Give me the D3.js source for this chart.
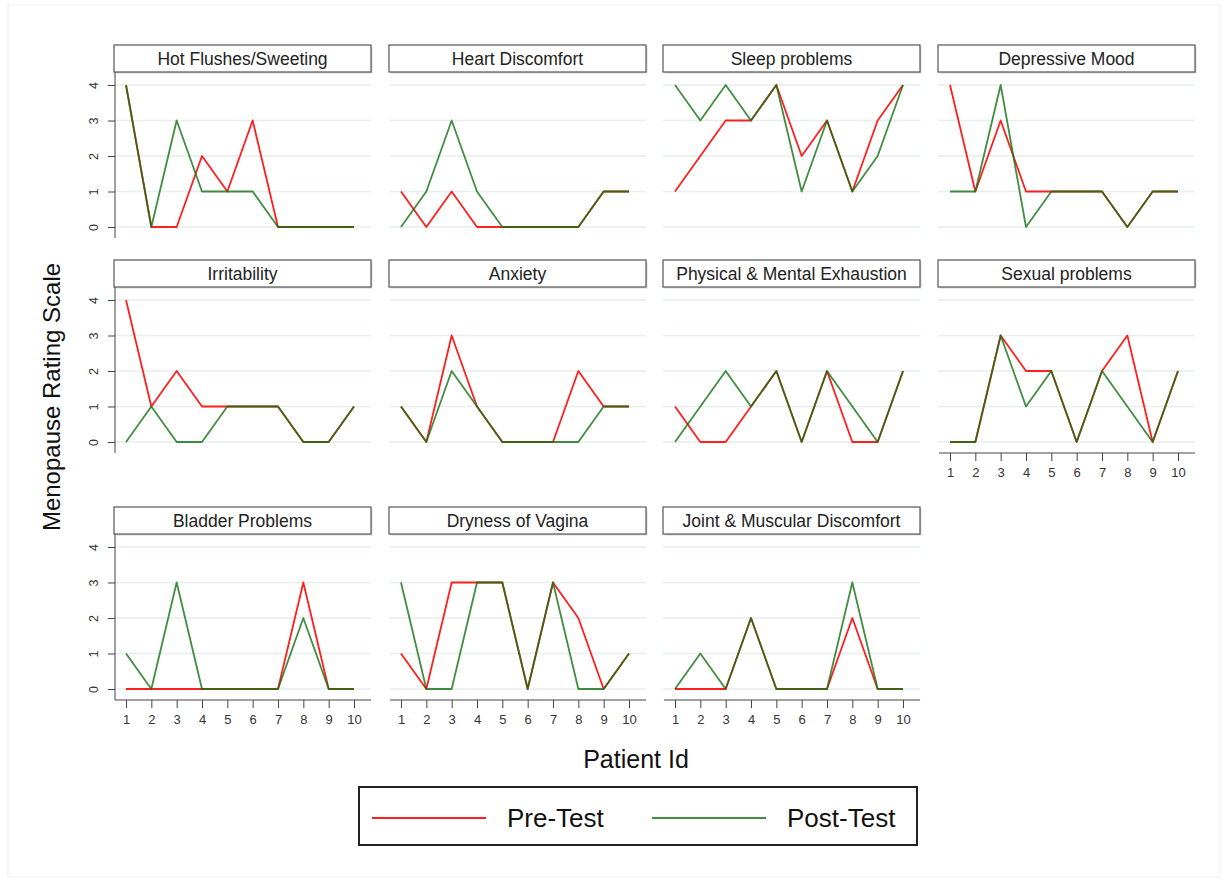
<!DOCTYPE html>
<html>
<head>
<meta charset="utf-8">
<script src="https://cdn.jsdelivr.net/npm/d3@7"></script>
<style>
  body { margin: 0; background: #fff; }
  svg text { font-family: "Liberation Sans", Arial, sans-serif; }
</style>
</head>
<body>
<div id="myPlot"></div>
<script>
// Data
const patientIds = [1, 2, 3, 4, 5, 6, 7, 8, 9, 10];
const yTicks = [0, 1, 2, 3, 4];
const symptoms = [
    "Hot Flushes/Sweeting", "Heart Discomfort", "Sleep problems", "Depressive Mood",
    "Irritability", "Anxiety", "Physical & Mental Exhaustion", "Sexual problems",
    "Bladder Problems", "Dryness of Vagina", "Joint & Muscular Discomfort"
];
const preTest = [
    [4, 0, 0, 2, 1, 3, 0, 0, 0, 0],
    [1, 0, 1, 0, 0, 0, 0, 0, 1, 1],
    [1, 2, 3, 3, 4, 2, 3, 1, 3, 4],
    [4, 1, 3, 1, 1, 1, 1, 0, 1, 1],
    [4, 1, 2, 1, 1, 1, 1, 0, 0, 1],
    [1, 0, 3, 1, 0, 0, 0, 2, 1, 1],
    [1, 0, 0, 1, 2, 0, 2, 0, 0, 2],
    [0, 0, 3, 2, 2, 0, 2, 3, 0, 2],
    [0, 0, 0, 0, 0, 0, 0, 3, 0, 0],
    [1, 0, 3, 3, 3, 0, 3, 2, 0, 1],
    [0, 0, 0, 2, 0, 0, 0, 2, 0, 0]
];
const postTest = [
    [4, 0, 3, 1, 1, 1, 0, 0, 0, 0],
    [0, 1, 3, 1, 0, 0, 0, 0, 1, 1],
    [4, 3, 4, 3, 4, 1, 3, 1, 2, 4],
    [1, 1, 4, 0, 1, 1, 1, 0, 1, 1],
    [0, 1, 0, 0, 1, 1, 1, 0, 0, 1],
    [1, 0, 2, 1, 0, 0, 0, 0, 1, 1],
    [0, 1, 2, 1, 2, 0, 2, 1, 0, 2],
    [0, 0, 3, 1, 2, 0, 2, 1, 0, 2],
    [1, 0, 3, 0, 0, 0, 0, 2, 0, 0],
    [3, 0, 0, 3, 3, 0, 3, 0, 0, 1],
    [0, 1, 0, 2, 0, 0, 0, 3, 0, 0]
];
const seriesNames = ["Pre-Test", "Post-Test"];
const seriesColors = ["#ff1f1f", "#137013"];

// Layout
const width = 1228, height = 886;
const colLeft = [114, 389, 663, 938];
const rowTop = [45, 260, 507];
const panelW = 257, headerH = 27;

const svg = d3.select("#myPlot")
    .append("svg")
    .attr("width", width)
    .attr("height", height);

// faint outer frame
svg.append("rect")
    .attr("x", 8).attr("y", 5)
    .attr("width", 1212).attr("height", 872)
    .attr("fill", "none")
    .attr("stroke", "#f0f0f0");

const line = d3.line();

symptoms.forEach((name, i) => {
    const row = Math.floor(i / 4), col = i % 4;
    const left = colLeft[col], top = rowTop[row];

    const x = d3.scaleLinear().domain([1, 10]).range([left + 12, left + 240]);
    const y = d3.scaleLinear().domain([0, 4]).range([top + 182, top + 40]);

    const g = svg.append("g");

    // gridlines
    g.selectAll(".grid")
        .data(yTicks)
        .enter()
        .append("line")
        .attr("x1", left).attr("x2", left + panelW)
        .attr("y1", d => y(d)).attr("y2", d => y(d))
        .attr("stroke", "#e6eeee")
        .attr("stroke-width", 1.3);

    // header box
    g.append("rect")
        .attr("x", left + 1.5).attr("y", top + 1.5)
        .attr("width", panelW).attr("height", headerH)
        .attr("fill", "#d8d8d8");
    g.append("rect")
        .attr("x", left).attr("y", top)
        .attr("width", panelW).attr("height", headerH)
        .attr("fill", "#fff")
        .attr("stroke", "#555")
        .attr("stroke-width", 1.2);
    g.append("text")
        .attr("x", left + panelW / 2).attr("y", top + 19.5)
        .attr("text-anchor", "middle")
        .attr("font-size", 17.5)
        .attr("fill", "#222")
        .text(name);

    // y axis on first column
    if (col === 0) {
        const yAxis = g.append("g")
            .attr("transform", "translate(" + (left + 1) + ",0)")
            .call(d3.axisLeft(y).tickValues(yTicks).tickSize(7).tickPadding(10).tickFormat(d3.format("d")));
        yAxis.select(".domain")
            .attr("d", "M0," + (top + headerH) + "V" + (y(0) + 11))
            .attr("stroke", "#444");
        yAxis.selectAll(".tick line").attr("stroke", "#444");
        yAxis.selectAll(".tick text")
            .attr("font-size", 12.5)
            .attr("fill", "#333")
            .attr("x", null).attr("dy", null)
            .attr("text-anchor", "middle")
            .attr("transform", "translate(-21,0) rotate(-90) translate(0,4)");
    }

    // x axis on bottom panels
    if (row === 2 || i === 7) {
        const xAxis = g.append("g")
            .attr("transform", "translate(0," + (y(0) + 11) + ")")
            .call(d3.axisBottom(x).tickValues(patientIds).tickSize(8).tickPadding(7).tickFormat(d3.format("d")));
        xAxis.select(".domain")
            .attr("d", "M" + (left + 1) + ",0H" + (left + panelW))
            .attr("stroke", "#444");
        xAxis.selectAll(".tick line").attr("stroke", "#444");
        xAxis.selectAll(".tick text").attr("font-size", 13).attr("fill", "#333");
    }

    // series lines
    [preTest[i], postTest[i]].forEach((vals, s) => {
        g.append("path")
            .datum(vals)
            .attr("d", line.x((d, k) => x(patientIds[k])).y(d => y(d)))
            .attr("fill", "none")
            .attr("stroke", seriesColors[s])
            .attr("stroke-opacity", s === 1 ? 0.8 : 1)
            .attr("stroke-width", 1.8)
            .attr("stroke-linejoin", "round");
    });
});

// axis titles
svg.append("text")
    .attr("transform", "translate(60,397) rotate(-90)")
    .attr("text-anchor", "middle")
    .attr("font-size", 24)
    .attr("fill", "#111")
    .text("Menopause Rating Scale");

svg.append("text")
    .attr("x", 636).attr("y", 768)
    .attr("text-anchor", "middle")
    .attr("font-size", 25)
    .attr("fill", "#111")
    .text("Patient Id");

// legend
const legend = svg.append("g");
legend.append("rect")
    .attr("x", 359).attr("y", 787)
    .attr("width", 558).attr("height", 58)
    .attr("fill", "#fff")
    .attr("stroke", "#222")
    .attr("stroke-width", 2);

const legendX = [372, 652];
seriesNames.forEach((name, s) => {
    legend.append("line")
        .attr("x1", legendX[s]).attr("x2", legendX[s] + 114)
        .attr("y1", 818).attr("y2", 818)
        .attr("stroke", seriesColors[s])
        .attr("stroke-opacity", s === 1 ? 0.8 : 1)
        .attr("stroke-width", 2);
    legend.append("text")
        .attr("x", legendX[s] + 135).attr("y", 827)
        .attr("font-size", 26)
        .attr("fill", "#111")
        .text(name);
});
</script>
</body>
</html>
